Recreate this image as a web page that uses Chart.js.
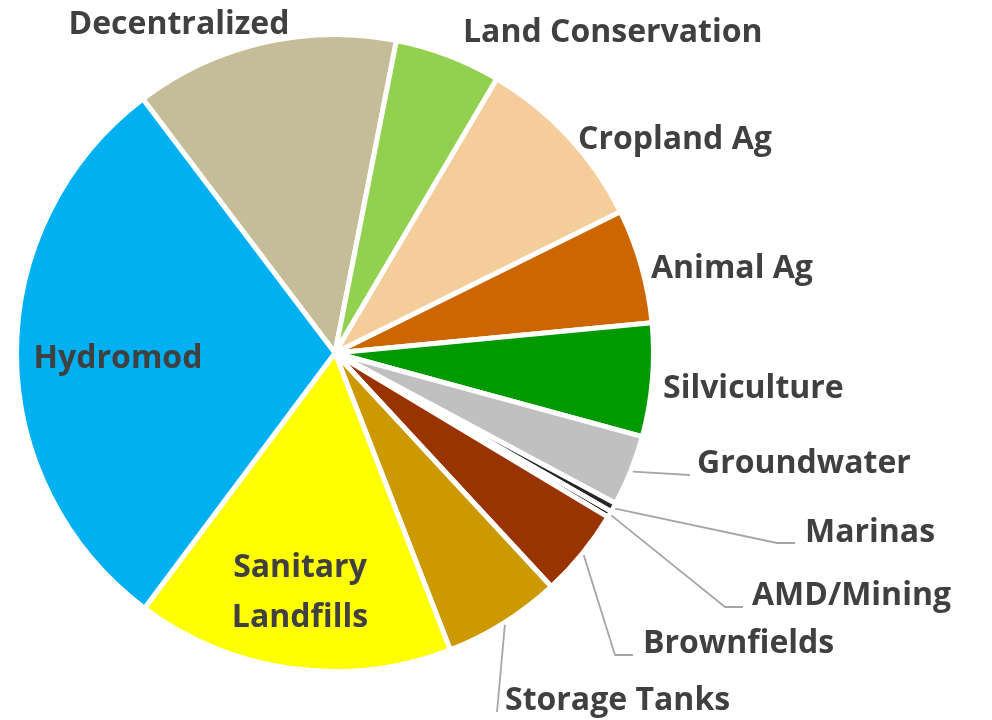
<!DOCTYPE html>
<html>
<head>
<meta charset="utf-8">
<script src="https://cdn.jsdelivr.net/npm/chart.js@4/dist/chart.umd.min.js"></script>
<style>
  html, body { margin: 0; padding: 0; background: #ffffff; }
  #wrap { width: 992px; height: 720px; position: relative; }
</style>
</head>
<body>
<div id="wrap"><canvas id="c"></canvas></div>
<script>
// ---- data ----
const categories = ["Decentralized", "Land Conservation", "Cropland Ag", "Animal Ag", "Silviculture",
  "Groundwater", "Marinas", "AMD/Mining", "Brownfields", "Storage Tanks", "Sanitary Landfills", "Hydromod"];
const shares = [13.4, 5.4, 9.2, 5.8, 5.75, 3.6, 0.47, 0.31, 4.5, 6.0, 16.1, 29.5];
const sliceColors = ["#c4bd97", "#92d050", "#f5cd9a", "#cc6600", "#009900",
  "#c0c0c0", "#262626", "#0d0d0d", "#993300", "#cc9900", "#ffff00", "#00b0f0"];

// ---- label layout (offsets in px from the pie centre) ----
const labelLayout = [
  { lines: ["Decentralized"], dx: -156, dy: -319, align: "center" },
  { lines: ["Land Conservation"], dx: 128, dy: -311, align: "left" },
  { lines: ["Cropland Ag"], dx: 243, dy: -204, align: "left" },
  { lines: ["Animal Ag"], dx: 316, dy: -75, align: "left" },
  { lines: ["Silviculture"], dx: 328, dy: 45, align: "left" },
  { lines: ["Groundwater"], dx: 362, dy: 120, align: "left", leader: [[355, 122]] },
  { lines: ["Marinas"], dx: 470, dy: 189, align: "left", leader: [[442, 190], [460, 190]] },
  { lines: ["AMD/Mining"], dx: 417, dy: 252, align: "left", leader: [[390, 254], [408, 254]] },
  { lines: ["Brownfields"], dx: 308, dy: 300, align: "left", leader: [[280, 302], [298, 302]] },
  { lines: ["Storage Tanks"], dx: 170, dy: 357, align: "left", leader: [[162, 359]] },
  { lines: ["Sanitary", "Landfills"], dx: -35, dy: 224, align: "center", lineGap: 50 },
  { lines: ["Hydromod"], dx: -217, dy: 15, align: "center" }
];

const labelPlugin = {
  id: "pieLabels",
  afterDatasetsDraw(chart) {
    const ctx = chart.ctx;
    const arcs = chart.getDatasetMeta(0).data;
    const cx = arcs[0].x, cy = arcs[0].y, R = arcs[0].outerRadius;
    ctx.save();
    // leader lines
    ctx.strokeStyle = "#a6a6a6";
    ctx.lineWidth = 1.8;
    ctx.lineJoin = "round";
    labelLayout.forEach((lab, i) => {
      if (!lab.leader) return;
      const a = arcs[i];
      const mid = (a.startAngle + a.endAngle) / 2;
      ctx.beginPath();
      ctx.moveTo(cx + (R + 2) * Math.cos(mid), cy + (R + 2) * Math.sin(mid));
      lab.leader.forEach(p => ctx.lineTo(cx + p[0], cy + p[1]));
      ctx.stroke();
    });
    // text
    ctx.fillStyle = "#404040";
    ctx.font = "bold 32px 'Open Sans'";
    ctx.textBaseline = "alphabetic";
    labelLayout.forEach((lab) => {
      ctx.textAlign = lab.align;
      lab.lines.forEach((t, k) => {
        ctx.fillText(t, cx + lab.dx, cy + lab.dy + k * (lab.lineGap || 0));
      });
    });
    ctx.restore();
  }
};

new Chart(document.getElementById("c"), {
  type: "pie",
  data: {
    labels: categories,
    datasets: [{
      data: shares,
      backgroundColor: sliceColors,
      borderColor: "#ffffff",
      borderWidth: 5
    }]
  },
  options: {
    responsive: true,
    maintainAspectRatio: false,
    animation: false,
    events: [],
    rotation: -37.1,
    layout: { padding: { left: 14, right: 336, top: 32, bottom: 46 } },
    plugins: { legend: { display: false }, tooltip: { enabled: false } }
  },
  plugins: [labelPlugin]
});
</script>
</body>
</html>
